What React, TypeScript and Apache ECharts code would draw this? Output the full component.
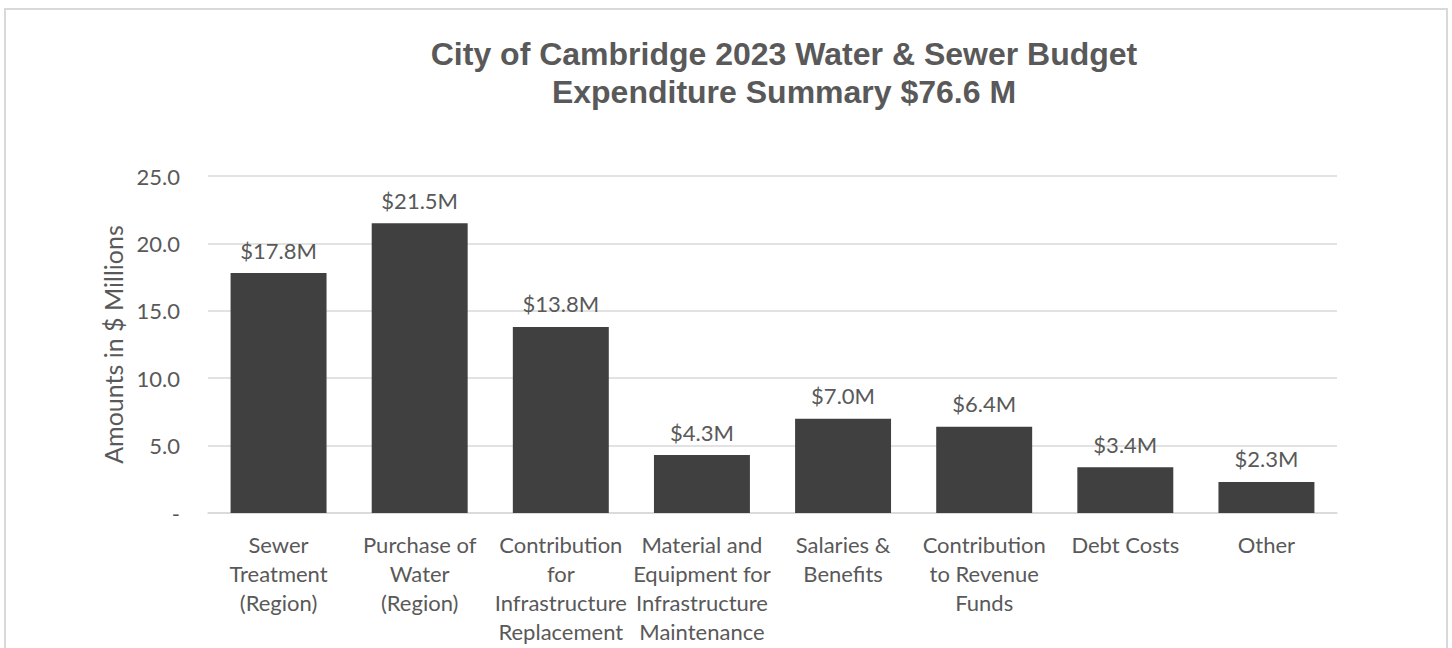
import React, { useEffect, useRef } from "react";
import * as echarts from "echarts";

const categories = [
  "Sewer\nTreatment\n(Region)",
  "Purchase of\nWater\n(Region)",
  "Contribution\nfor\nInfrastructure\nReplacement",
  "Material and\nEquipment for\nInfrastructure\nMaintenance",
  "Salaries &\nBenefits",
  "Contribution\nto Revenue\nFunds",
  "Debt Costs",
  "Other",
];
const values = [17.8, 21.5, 13.8, 4.3, 7.0, 6.4, 3.4, 2.3];
const titleLines = ["City of Cambridge 2023 Water & Sewer Budget", "Expenditure Summary $76.6 M"];
const yAxisName = "Amounts in $ Millions";

const FONT = "Lato, 'Open Sans', sans-serif";
const TEXT = "#595959";

export default function App() {
  const ref = useRef<HTMLDivElement>(null);
  useEffect(() => {
    if (!ref.current) return;
    const chart = echarts.init(ref.current, undefined, { renderer: "svg" });
    chart.setOption({
      animation: false,
      backgroundColor: "#ffffff",
      graphic: [
        {
          type: "rect",
          shape: { x: 5, y: 9, width: 1442, height: 700 },
          style: { fill: "none", stroke: "#d9d9d9", lineWidth: 2 },
          silent: true,
        },
      ],
      title: {
        text: titleLines.join("\n"),
        left: 784,
        textAlign: "center",
        top: 35,
        padding: 0,
        textStyle: {
          fontFamily: "'Liberation Sans', Arial, sans-serif",
          fontSize: 32,
          fontWeight: "bold",
          color: TEXT,
          lineHeight: 38,
        },
      },
      grid: { left: 208, right: 115, top: 176, bottom: 135, containLabel: false },
      xAxis: {
        type: "category",
        data: categories,
        axisLine: { lineStyle: { color: "#d9d9d9", width: 1.5 } },
        axisTick: { show: false },
        axisLabel: {
          interval: 0,
          color: TEXT,
          fontFamily: FONT,
          fontSize: 22,
          lineHeight: 29,
          margin: 17,
        },
      },
      yAxis: {
        type: "value",
        min: 0,
        max: 25,
        interval: 5,
        name: yAxisName,
        nameLocation: "middle",
        nameRotate: 90,
        nameGap: 83,
        nameTextStyle: { color: TEXT, fontFamily: FONT, fontSize: 25 },
        axisLine: { show: false },
        axisTick: { show: false },
        splitLine: { lineStyle: { color: "#d9d9d9", width: 1.5 } },
        axisLabel: {
          color: TEXT,
          fontFamily: FONT,
          fontSize: 22,
          margin: 28,
          formatter: (v: number) => (v === 0 ? "-" : v.toFixed(1)),
        },
      },
      series: [
        {
          type: "bar",
          data: values,
          barWidth: "68%",
          itemStyle: { color: "#404040" },
          label: {
            show: true,
            position: "top",
            distance: 12,
            color: TEXT,
            fontFamily: FONT,
            fontSize: 22,
            formatter: (p: any) => "$" + Number(p.value).toFixed(1) + "M",
          },
        },
      ],
    });
    return () => chart.dispose();
  }, []);
  return (
    <div
      ref={ref}
      style={{ position: "fixed", left: 0, top: 0, width: 1452, height: 648 }}
    />
  );
}
